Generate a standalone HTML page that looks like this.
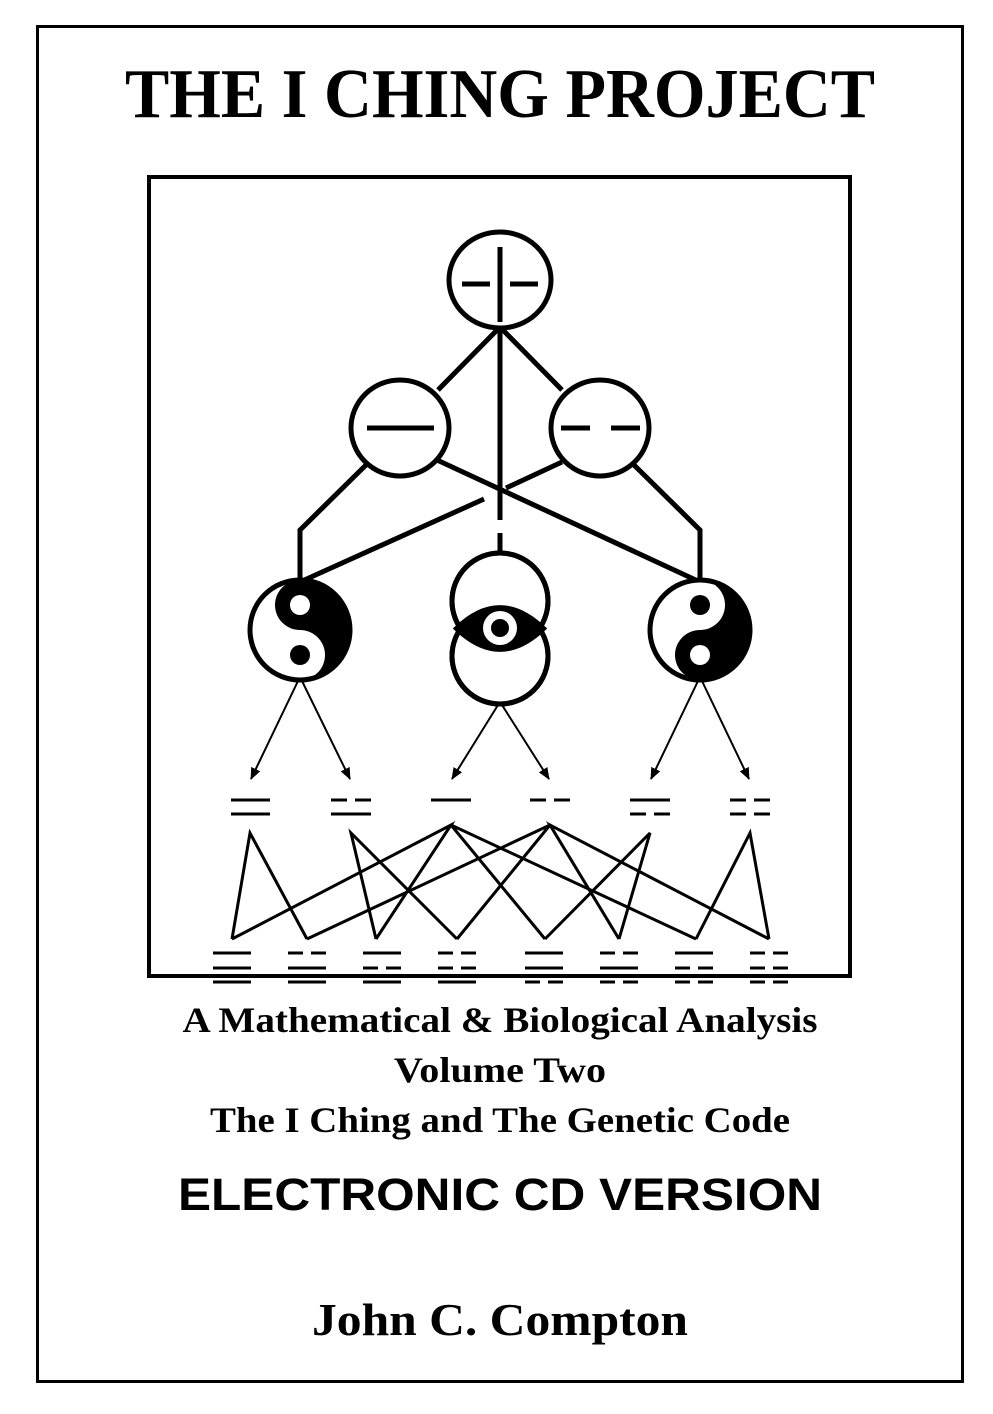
<!DOCTYPE html>
<html><head><meta charset="utf-8"><style>
html,body{margin:0;padding:0;background:#fff}
svg{display:block}
</style></head><body>
<svg width="993" height="1414" viewBox="0 0 993 1414" xmlns="http://www.w3.org/2000/svg">
<rect x="0" y="0" width="993" height="1414" fill="#fff"/>
<rect x="37.5" y="26.5" width="925" height="1355" fill="none" stroke="#000" stroke-width="3"/>
<text x="500" y="117" font-family="Liberation Serif, serif" font-weight="bold" font-size="70" text-anchor="middle" textLength="750" lengthAdjust="spacingAndGlyphs">THE I CHING PROJECT</text>
<rect x="149" y="177" width="701" height="799" fill="none" stroke="#000" stroke-width="4"/>
<g fill="none" stroke="#000" stroke-width="5" stroke-linecap="butt">
<line x1="500" y1="327" x2="438" y2="390"/>
<line x1="500" y1="327" x2="562" y2="390"/>
<line x1="500" y1="327" x2="500" y2="520"/>
<line x1="500" y1="533" x2="500" y2="553"/>
<polyline points="367,464 300,530 300,582"/>
<polyline points="633,464 700,530 700,582"/>
<line x1="437" y1="460" x2="700" y2="582"/>
<polyline points="562,462 506,488"/>
<line x1="484" y1="499" x2="300" y2="582"/>
<ellipse cx="500" cy="280" rx="51" ry="48" fill="#fff"/>
<ellipse cx="400" cy="428" rx="49" ry="48" fill="#fff"/>
<ellipse cx="600" cy="428" rx="49" ry="48" fill="#fff"/>
<circle cx="500" cy="601" r="48" fill="#fff"/>
<circle cx="500" cy="656" r="48" fill="#fff"/>
</g>
<g stroke="#000" stroke-width="5">
<line x1="462" y1="284" x2="490" y2="284"/><line x1="510" y1="284" x2="538" y2="284"/>
<line x1="500" y1="247" x2="500" y2="322"/>
<line x1="367" y1="428" x2="434" y2="428"/>
<line x1="561" y1="428" x2="590" y2="428"/><line x1="611" y1="428" x2="640" y2="428"/>
</g>
<path d="M455,628.5 Q500,585 545,628.5 Q500,672 455,628.5 Z" fill="#000" stroke="#000" stroke-width="3"/>
<circle cx="500" cy="628" r="17" fill="#fff"/>
<circle cx="500" cy="628" r="9" fill="#000"/>
<circle cx="500" cy="601" r="48" fill="none" stroke="#000" stroke-width="5"/>
<circle cx="500" cy="656" r="48" fill="none" stroke="#000" stroke-width="5"/>
<g transform="translate(300,630)">
<circle r="50" fill="#fff" stroke="#000" stroke-width="5"/>
<path d="M0,-50 A50,50 0 0 1 0,50 A25,25 0 0 0 0,0 A25,25 0 0 1 0,-50 Z" fill="#000"/>
<circle cx="0" cy="-25" r="10" fill="#fff"/>
<circle cx="0" cy="25" r="10" fill="#000"/>
</g>
<g transform="translate(700,630) scale(1,-1)">
<circle r="50" fill="#fff" stroke="#000" stroke-width="5"/>
<path d="M0,-50 A50,50 0 0 1 0,50 A25,25 0 0 0 0,0 A25,25 0 0 1 0,-50 Z" fill="#000"/>
<circle cx="0" cy="-25" r="10" fill="#fff"/>
<circle cx="0" cy="25" r="10" fill="#000"/>
</g>
<defs><marker id="ah" markerWidth="12" markerHeight="12" refX="11" refY="6" orient="auto" markerUnits="userSpaceOnUse"><path d="M0,1 L12,6 L0,11 Z" fill="#000"/></marker></defs>
<g stroke="#000" stroke-width="2" marker-end="url(#ah)">
<line x1="298" y1="681" x2="251" y2="779"/>
<line x1="302" y1="681" x2="350" y2="779"/>
<line x1="498" y1="705" x2="452" y2="779"/>
<line x1="502" y1="705" x2="549" y2="779"/>
<line x1="698" y1="681" x2="651" y2="779"/>
<line x1="702" y1="681" x2="749" y2="779"/>
</g>
<g stroke="#000" stroke-width="3">
<line x1="231" y1="800" x2="270" y2="800"/><line x1="231" y1="814" x2="270" y2="814"/>
<line x1="331" y1="800" x2="347" y2="800"/><line x1="355" y1="800" x2="371" y2="800"/><line x1="331" y1="814" x2="371" y2="814"/>
<line x1="431" y1="800" x2="471" y2="800"/>
<line x1="530" y1="800" x2="546" y2="800"/><line x1="554" y1="800" x2="570" y2="800"/>
<line x1="630" y1="800" x2="670" y2="800"/><line x1="630" y1="814" x2="646" y2="814"/><line x1="654" y1="814" x2="670" y2="814"/>
<line x1="730" y1="800" x2="746" y2="800"/><line x1="754" y1="800" x2="770" y2="800"/><line x1="730" y1="814" x2="746" y2="814"/><line x1="754" y1="814" x2="770" y2="814"/>
</g>
<g stroke="#000" stroke-width="3" fill="none">
<polyline points="232,939 250,833 307,939"/>
<polyline points="376,939 351,833 457,939"/>
<polyline points="232,939 451,825 376,939"/>
<polyline points="545,939 451,825 696,939"/>
<polyline points="307,939 550,825 457,939"/>
<polyline points="619,939 550,825 769,939"/>
<polyline points="545,939 650,833 619,939"/>
<polyline points="696,939 750,833 769,939"/>
</g>
<g stroke="#000" stroke-width="3">
<line x1="213" y1="953" x2="251" y2="953"/><line x1="213" y1="968" x2="251" y2="968"/><line x1="213" y1="982" x2="251" y2="982"/>
<line x1="288" y1="953" x2="303" y2="953"/><line x1="311" y1="953" x2="326" y2="953"/><line x1="288" y1="968" x2="326" y2="968"/><line x1="288" y1="982" x2="326" y2="982"/>
<line x1="363" y1="953" x2="401" y2="953"/><line x1="363" y1="968" x2="378" y2="968"/><line x1="386" y1="968" x2="401" y2="968"/><line x1="363" y1="982" x2="401" y2="982"/>
<line x1="438" y1="953" x2="453" y2="953"/><line x1="461" y1="953" x2="476" y2="953"/><line x1="438" y1="968" x2="453" y2="968"/><line x1="461" y1="968" x2="476" y2="968"/><line x1="438" y1="982" x2="476" y2="982"/>
<line x1="525" y1="953" x2="563" y2="953"/><line x1="525" y1="968" x2="563" y2="968"/><line x1="525" y1="982" x2="540" y2="982"/><line x1="548" y1="982" x2="563" y2="982"/>
<line x1="600" y1="953" x2="615" y2="953"/><line x1="623" y1="953" x2="638" y2="953"/><line x1="600" y1="968" x2="638" y2="968"/><line x1="600" y1="982" x2="615" y2="982"/><line x1="623" y1="982" x2="638" y2="982"/>
<line x1="675" y1="953" x2="713" y2="953"/><line x1="675" y1="968" x2="690" y2="968"/><line x1="698" y1="968" x2="713" y2="968"/><line x1="675" y1="982" x2="690" y2="982"/><line x1="698" y1="982" x2="713" y2="982"/>
<line x1="750" y1="953" x2="765" y2="953"/><line x1="773" y1="953" x2="788" y2="953"/><line x1="750" y1="968" x2="765" y2="968"/><line x1="773" y1="968" x2="788" y2="968"/><line x1="750" y1="982" x2="765" y2="982"/><line x1="773" y1="982" x2="788" y2="982"/>
</g>
<g font-family="Liberation Serif, serif" font-weight="bold" text-anchor="middle" font-size="36">
<text x="500" y="1032" textLength="635" lengthAdjust="spacingAndGlyphs">A Mathematical &amp; Biological Analysis</text>
<text x="500" y="1082" textLength="212" lengthAdjust="spacingAndGlyphs">Volume Two</text>
<text x="500" y="1132" textLength="580" lengthAdjust="spacingAndGlyphs">The I Ching and The Genetic Code</text>
<text x="500" y="1335" font-size="45" textLength="376" lengthAdjust="spacingAndGlyphs">John C. Compton</text>
</g>
<text x="500" y="1210" font-family="Liberation Sans, sans-serif" font-weight="bold" font-size="45" text-anchor="middle" textLength="644" lengthAdjust="spacingAndGlyphs">ELECTRONIC CD VERSION</text>
</svg>
</body></html>
